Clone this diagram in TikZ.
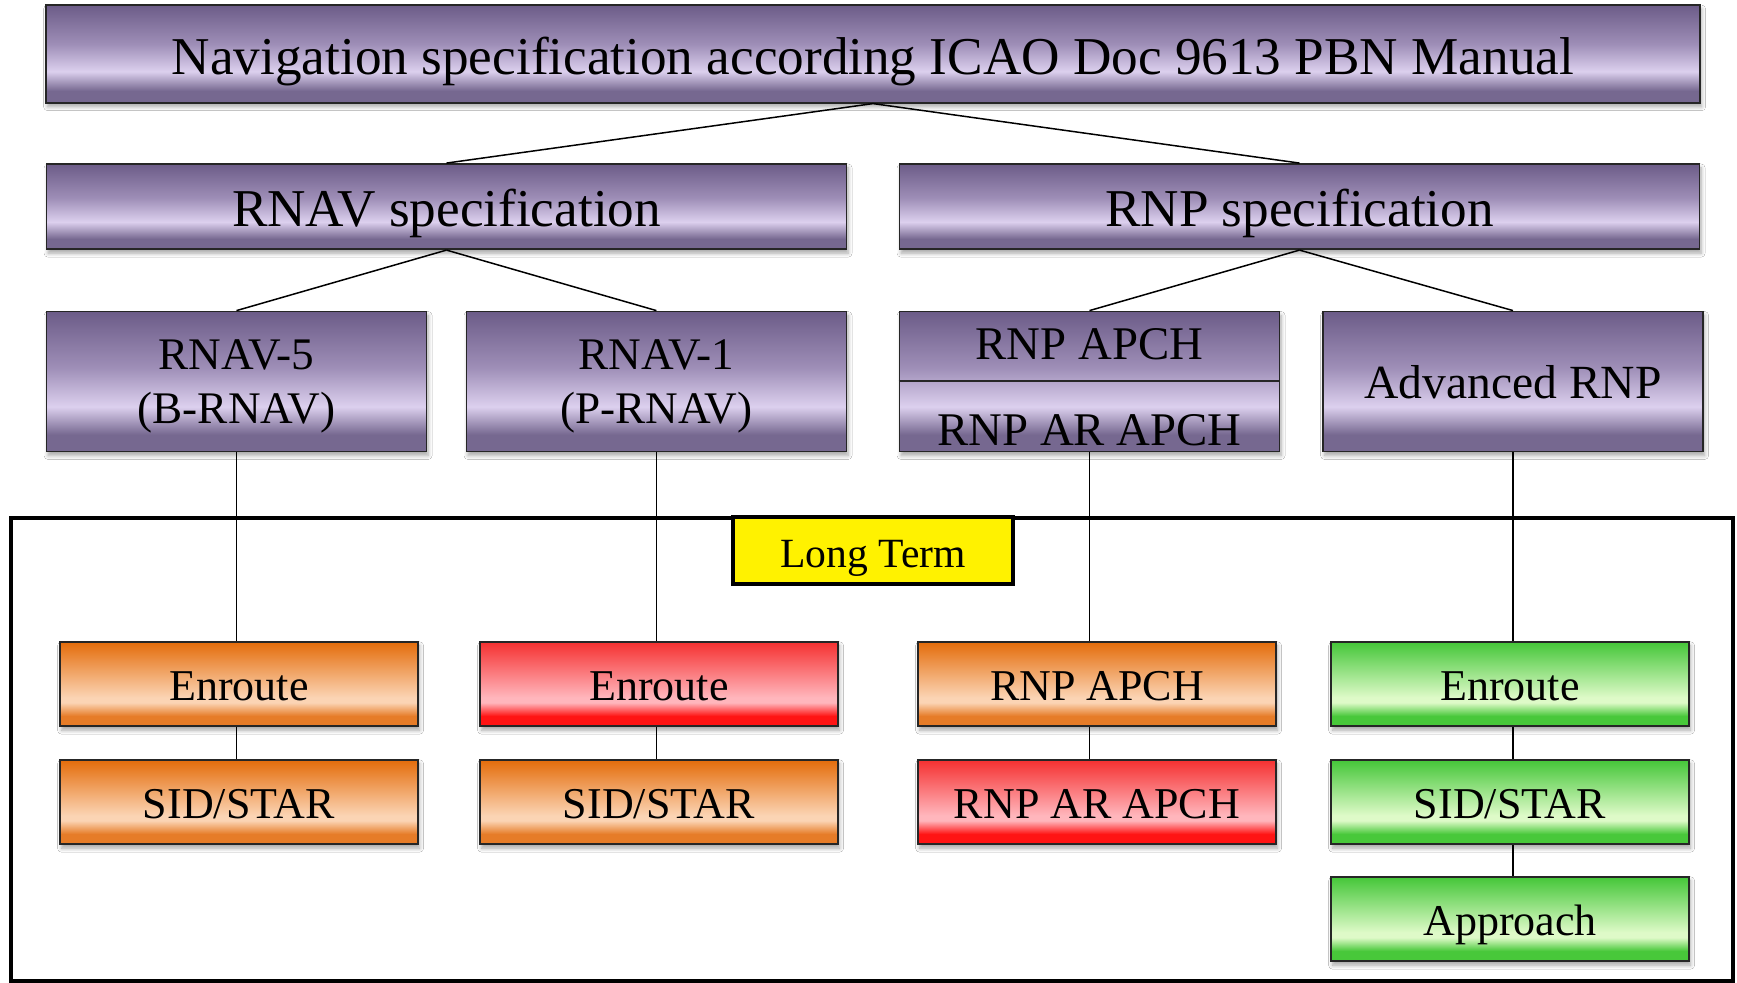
\documentclass[tikz,border=0pt]{standalone}
\usepackage{fontspec}
\setmainfont{Liberation Serif}
\usetikzlibrary{shadows.blur}

% colour stops: T = top, L = light band, B = bottom
\definecolor{purT}{RGB}{108,92,136}
\definecolor{purM}{RGB}{158,142,183}
\definecolor{purL}{RGB}{220,208,238}
\definecolor{purB}{RGB}{118,104,144}
\definecolor{orT}{RGB}{228,108,10}
\definecolor{orL}{RGB}{251,212,180}
\definecolor{orB}{RGB}{230,124,40}
\definecolor{rdT}{RGB}{245,48,48}
\definecolor{rdL}{RGB}{255,182,188}
\definecolor{rdB}{RGB}{255,20,20}
\definecolor{grT}{RGB}{68,198,56}
\definecolor{grL}{RGB}{222,250,200}
\definecolor{grB}{RGB}{72,200,58}

% the box occupies 25bp (bottom) .. 75bp (top) of each shading
\pgfdeclareverticalshading{purshade}{100bp}{color(0bp)=(purB); color(25bp)=(purB); color(31bp)=(purB); color(41bp)=(purL); color(55bp)=(purM); color(75bp)=(purT); color(100bp)=(purT)}
\pgfdeclareverticalshading{orshade}{100bp}{color(0bp)=(orB); color(25bp)=(orB); color(31bp)=(orB); color(39bp)=(orL); color(42bp)=(orL); color(75bp)=(orT); color(100bp)=(orT)}
\pgfdeclareverticalshading{rdshade}{100bp}{color(0bp)=(rdB); color(25bp)=(rdB); color(31bp)=(rdB); color(39bp)=(rdL); color(42bp)=(rdL); color(75bp)=(rdT); color(100bp)=(rdT)}
\pgfdeclareverticalshading{grshade}{100bp}{color(0bp)=(grB); color(25bp)=(grB); color(31bp)=(grB); color(39bp)=(grL); color(42bp)=(grL); color(75bp)=(grT); color(100bp)=(grT)}

\newcommand\fsTop{\fontsize{26.6}{30}\selectfont}
\newcommand\fsPair{\fontsize{22.6}{26.7}\selectfont}
\newcommand\fsMid{\fontsize{23.4}{28}\selectfont}
\newcommand\fsLow{\fontsize{22}{26}\selectfont}
\newcommand\fsTag{\fontsize{20.8}{24}\selectfont}

\tikzset{
  box/.style={draw=black!85, line width=0.9pt, rectangle, inner sep=0pt,
    blur shadow={shadow xshift=0.8pt, shadow yshift=-2pt, shadow opacity=35,
      shadow blur steps=6, shadow blur radius=2pt}},
  purplebox/.style={box, shading=purshade},
  orangebox/.style={box, shading=orshade},
  redbox/.style={box, shading=rdshade},
  greenbox/.style={box, shading=grshade},
  headbox/.style={purplebox, text height=20.2pt, text depth=0pt, font=\fsTop},
  specbox/.style={purplebox, minimum width=190pt, minimum height=70pt},
  label/.style={anchor=base, inner sep=0pt},
  leafbox/.style={text height=17pt, text depth=0pt, minimum width=179pt,
    minimum height=42.2pt, font=\fsLow},
  link/.style={draw=black, line width=0.75pt},
  tagbox/.style={draw=black, fill=yellow, line width=2pt, minimum width=140pt,
    minimum height=33.5pt, inner sep=0pt, font=\fsTag, text height=16.8pt, text depth=0pt}
}

\begin{document}
\begin{tikzpicture}[x=0.5pt,y=-0.5pt]
\useasboundingbox (0,0) rectangle (1737,983);
\fill[white] (0,0) rectangle (1737,983);

% long-term frame
\draw[line width=2pt] (11,518.5) rectangle (1733,981);

% upper hierarchy
\node[headbox, minimum width=827pt, minimum height=48.8pt] (nav) at (873,53.9)
  {Navigation specification according ICAO Doc 9613 PBN Manual};
\node[headbox, minimum width=400pt, minimum height=42.6pt] (rnavspec) at (446.5,206.6) {RNAV specification};
\node[headbox, minimum width=400pt, minimum height=42.6pt] (rnpspec) at (1299.5,206.6) {RNP specification};

\node[specbox] (rnav5) at (236.5,381.5) {};
\node[label, font=\fsPair] (rnav5a) at (236.5,370) {RNAV-5};
\node[label, font=\fsPair] (rnav5b) at (236.5,423.3) {(B-RNAV)};
\node[specbox] (rnav1) at (656.4,381.5) {};
\node[label, font=\fsPair] (rnav1a) at (656.4,370) {RNAV-1};
\node[label, font=\fsPair] (rnav1b) at (656.4,423.3) {(P-RNAV)};
\node[specbox] (apch) at (1089.5,381.5) {};
\draw[line width=1pt, black!85] (apch.west) -- (apch.east);
\node[label, font=\fsMid] (apchA) at (1089.5,360) {RNP APCH};
\node[label, font=\fsMid] (apchB) at (1089.5,445.5) {RNP AR APCH};
\node[specbox, font=\fontsize{23.8}{28}\selectfont, text height=17pt, text depth=0pt]
  (adv) at (1513,381.5) {Advanced RNP};

% long-term implementations
\node[tagbox] (tag) at (873,550.5) {Long Term};

\node[orangebox, leafbox] (e1) at (239,684) {Enroute};
\node[orangebox, leafbox] (s1) at (239,802) {SID/STAR};
\node[redbox, leafbox] (e2) at (659,684) {Enroute};
\node[orangebox, leafbox] (s2) at (659,802) {SID/STAR};
\node[orangebox, leafbox] (a1) at (1097,684) {RNP APCH};
\node[redbox, leafbox] (a2) at (1097,802) {RNP AR APCH};
\node[greenbox, leafbox] (e4) at (1510,684) {Enroute};
\node[greenbox, leafbox] (s4) at (1510,802) {SID/STAR};
\node[greenbox, leafbox] (p4) at (1510,919) {Approach};

% connectors
\draw[link] (nav.south) -- (rnavspec.north);
\draw[link] (nav.south) -- (rnpspec.north);
\draw[link] (rnavspec.south) -- (rnav5.north);
\draw[link] (rnavspec.south) -- (rnav1.north);
\draw[link] (rnpspec.south) -- (apch.north);
\draw[link] (rnpspec.south) -- (adv.north);

\draw[link] (rnav5.south) -- (rnav5.south |- e1.north);
\draw[link] (rnav5.south |- e1.south) -- (rnav5.south |- s1.north);
\draw[link] (rnav1.south) -- (rnav1.south |- e2.north);
\draw[link] (rnav1.south |- e2.south) -- (rnav1.south |- s2.north);
\draw[link] (apch.south) -- (apch.south |- a1.north);
\draw[link] (apch.south |- a1.south) -- (apch.south |- a2.north);
\draw[link] (adv.south) -- (adv.south |- e4.north);
\draw[link] (adv.south |- e4.south) -- (adv.south |- s4.north);
\draw[link] (adv.south |- s4.south) -- (adv.south |- p4.north);
\end{tikzpicture}
\end{document}
